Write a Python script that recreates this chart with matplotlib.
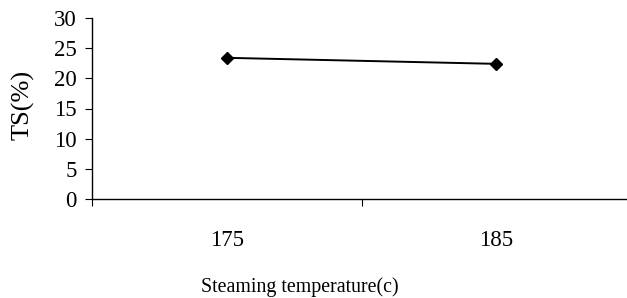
import matplotlib
matplotlib.use("Agg")
import matplotlib.pyplot as plt

temps = ["175", "185"]
ts = [23.4, 22.4]
yticks = [0, 5, 10, 15, 20, 25, 30]

plt.rcParams['font.family'] = ['Liberation Serif', 'DejaVu Serif']

W, H = 627, 298
fig = plt.figure(figsize=(W / 100, H / 100), dpi=100)
ax = fig.add_axes([92 / W, (H - 199) / H, 539 / W, 181 / H])

x = list(range(len(temps)))
ax.plot(x, ts, color='black', lw=1.4, marker='D', ms=6)

ax.set_xlim(-0.5, len(temps) - 0.5)
ax.set_ylim(0, 30)
ax.set_yticks(yticks)
ax.set_xticks([i + 0.5 for i in range(-1, len(temps))])
ax.set_xticklabels([])
ax.set_xticks(x, minor=True)
ax.set_xticklabels(temps, minor=True)
ax.tick_params(axis='x', which='major', direction='out', length=5, width=0.8)
ax.tick_params(axis='x', which='minor', length=0, pad=22, labelsize=16.5)
ax.tick_params(axis='y', direction='out', length=5, width=0.8, pad=6, labelsize=16.5)

for s in ['top', 'right']:
    ax.spines[s].set_visible(False)
for s in ['left', 'bottom']:
    ax.spines[s].set_linewidth(1.0)

fig.text(23 / W, 1 - 105 / H, "TS(%)", rotation=90, ha='center', va='center', fontsize=19)
fig.text(300 / W, 1 - 292 / H, "Steaming temperature(c)", ha='center', va='baseline', fontsize=14.3)

fig.savefig("out.png", dpi=100)
